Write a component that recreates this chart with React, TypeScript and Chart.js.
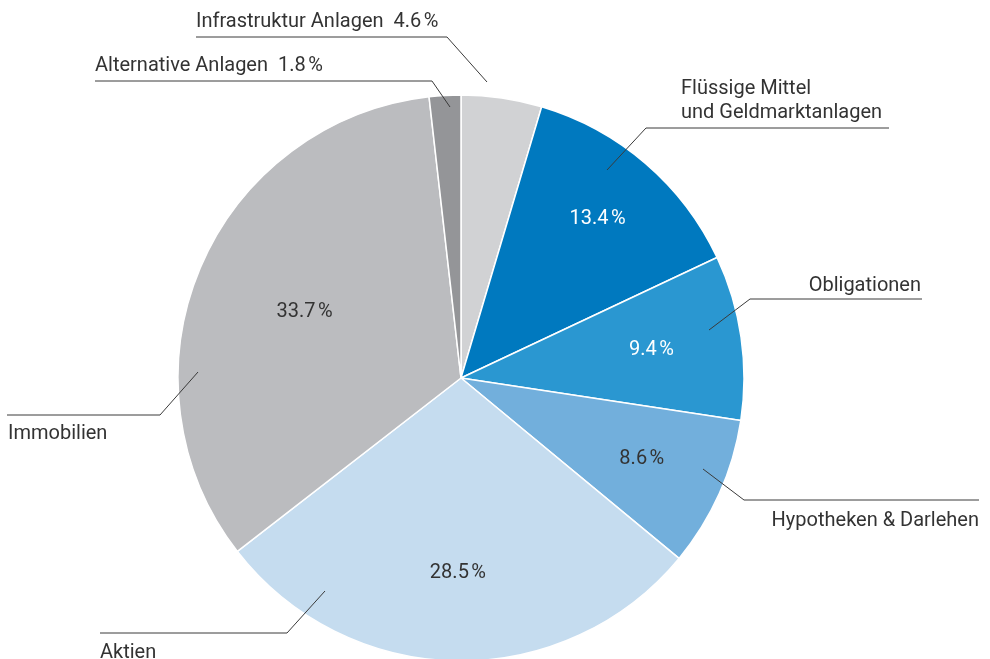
import React, { useEffect, useRef } from "react";
import { Chart, registerables } from "chart.js";

Chart.register(...registerables);

const categories = [
  "Infrastruktur Anlagen",
  "Flüssige Mittel und Geldmarktanlagen",
  "Obligationen",
  "Hypotheken & Darlehen",
  "Aktien",
  "Immobilien",
  "Alternative Anlagen",
];
const values = [4.6, 13.4, 9.4, 8.6, 28.5, 33.7, 1.8];
const colors = ["#d1d2d4", "#0079bf", "#2a97d1", "#72afdc", "#c5dcef", "#bbbcbf", "#949598"];
const insideLabelColor = [null, "#ffffff", "#ffffff", "#333333", "#333333", "#333333", null];
const insideRadial = [0, 0.74, 0.68, 0.7, 0.69, 0.6, 0];

// Annotation layout (label text placement + leader lines), in canvas pixels
const labelLines = [
  ["Infrastruktur Anlagen  4.6\u202F%"],
  ["Flüssige Mittel", "und Geldmarktanlagen"],
  ["Obligationen"],
  ["Hypotheken & Darlehen"],
  ["Aktien"],
  ["Immobilien"],
  ["Alternative Anlagen  1.8\u202F%"],
];
const labelAnchor = [
  { x: 196, y: 27, align: "left" },
  { x: 681, y: 94, align: "left" },
  { x: 921, y: 291, align: "right" },
  { x: 979, y: 526, align: "right" },
  { x: 100, y: 658, align: "left" },
  { x: 8, y: 439, align: "left" },
  { x: 95, y: 71, align: "left" },
];
const leaderPaths = [
  [[196, 37], [447, 37], [487, 82]],
  [[889, 128], [646, 128], [607, 170]],
  [[922, 299], [750, 299], [709, 330]],
  [[979, 500], [744, 500], [703, 469]],
  [[100, 633], [287, 633], [325, 591]],
  [[7, 415], [160, 415], [198, 372]],
  [[95, 81], [432, 81], [450, 107]],
];

const FONT = "20px Roboto, 'Open Sans', sans-serif";

const labelPlugin = {
  id: "pieLabels",
  afterDraw(chart: any) {
    const ctx = chart.ctx;
    const meta = chart.getDatasetMeta(0);
    ctx.save();
    // leader lines
    ctx.strokeStyle = "#3a3a3a";
    ctx.lineWidth = 1;
    leaderPaths.forEach((p) => {
      ctx.beginPath();
      ctx.moveTo(p[0][0], p[0][1]);
      for (let i = 1; i < p.length; i++) ctx.lineTo(p[i][0], p[i][1]);
      ctx.stroke();
    });
    // outside labels
    ctx.font = FONT;
    ctx.fillStyle = "#333333";
    ctx.textBaseline = "alphabetic";
    labelLines.forEach((lines, i) => {
      const a = labelAnchor[i];
      ctx.textAlign = a.align;
      lines.forEach((t, j) => ctx.fillText(t, a.x, a.y + j * 24));
    });
    // inside percent labels
    ctx.textAlign = "center";
    ctx.textBaseline = "middle";
    meta.data.forEach((arc: any, i: number) => {
      const col = insideLabelColor[i];
      if (!col) return;
      const mid = (arc.startAngle + arc.endAngle) / 2;
      const r = arc.outerRadius * insideRadial[i];
      const x = arc.x + Math.cos(mid) * r;
      const y = arc.y + Math.sin(mid) * r;
      ctx.fillStyle = col;
      ctx.fillText(values[i].toFixed(1) + "\u202F%", x, y);
    });
    ctx.restore();
  },
};

export default function App() {
  const ref = useRef<HTMLCanvasElement>(null);
  useEffect(() => {
    if (!ref.current) return;
    const chart = new Chart(ref.current, {
      type: "pie",
      data: {
        labels: categories,
        datasets: [
          {
            data: values,
            backgroundColor: colors,
            borderColor: "#ffffff",
            borderWidth: 1.5,
            hoverOffset: 0,
          },
        ],
      },
      options: {
        responsive: false,
        animation: false,
        events: [],
        radius: 283,
        layout: { padding: { left: 0, right: 68, top: 56, bottom: 0 } },
        plugins: { legend: { display: false }, tooltip: { enabled: false } },
      } as any,
      plugins: [labelPlugin],
    });
    return () => chart.destroy();
  }, []);
  return (
    <div
      style={{
        position: "fixed",
        left: 0,
        top: 0,
        width: 990,
        height: 659,
        overflow: "hidden",
        background: "#ffffff",
      }}
    >
      <canvas ref={ref} width={990} height={700} style={{ display: "block", width: 990, height: 700 }} />
    </div>
  );
}
